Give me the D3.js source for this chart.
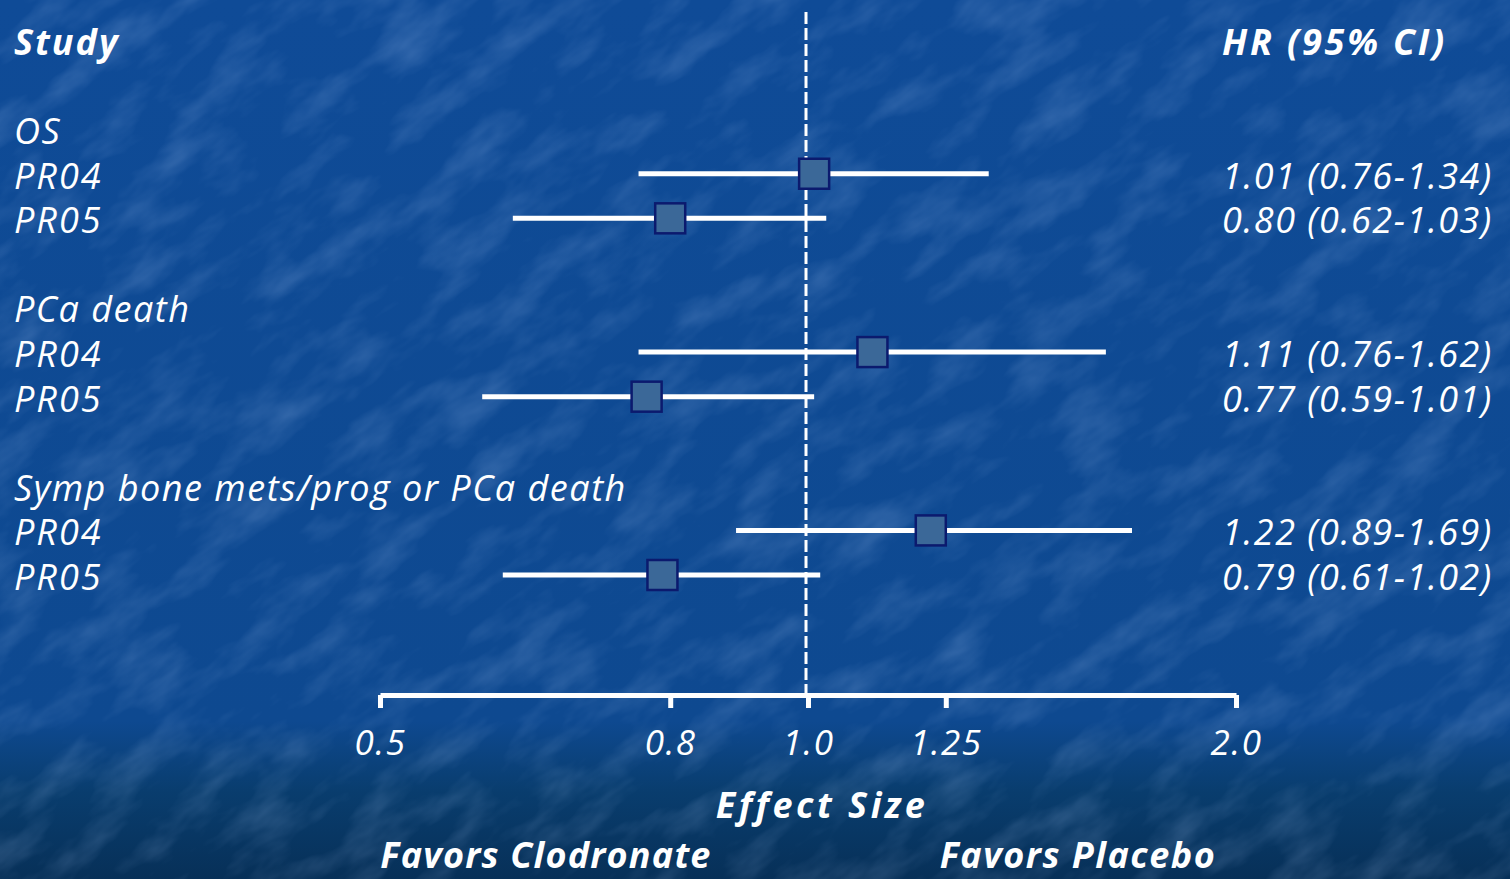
<!DOCTYPE html>
<html>
<head>
<meta charset="utf-8">
<script src="https://cdn.jsdelivr.net/npm/d3@7"></script>
<style>
  body { margin: 0; background: #0f4b97; overflow: hidden; }
  text { font-family: "Open Sans", sans-serif; font-style: italic; fill: #fff; }
</style>
</head>
<body>
<script>
const w = 1510;
const h = 879;

// groups and studies, in drawing order
const groups = ["OS", "PCa death", "Symp bone mets/prog or PCa death"];
const studies = ["PR04", "PR05", "PR04", "PR05", "PR04", "PR05"];
const hr = [1.01, 0.80, 1.11, 0.77, 1.22, 0.79];
const lower = [0.76, 0.62, 0.76, 0.59, 0.89, 0.61];
const upper = [1.34, 1.03, 1.62, 1.01, 1.69, 1.02];
const hrLabels = ["1.01 (0.76-1.34)", "0.80 (0.62-1.03)", "1.11 (0.76-1.62)",
                  "0.77 (0.59-1.01)", "1.22 (0.89-1.69)", "0.79 (0.61-1.02)"];
const tickValues = [0.5, 0.8, 1.0, 1.25, 2.0];
const tickLabels = ["0.5", "0.8", "1.0", "1.25", "2.0"];

const boxFill = "#3b6898";
const boxStroke = "#0b1a6e";

const svg = d3.select("body")
    .append("svg")
    .attr("width", w)
    .attr("height", h);

const defs = svg.append("defs");
const grad = defs.append("linearGradient")
    .attr("id", "bg")
    .attr("x1", 0).attr("y1", 0).attr("x2", 0).attr("y2", 1);
grad.append("stop").attr("offset", "0").attr("stop-color", "#0f4b97");
grad.append("stop").attr("offset", "0.82").attr("stop-color", "#0e4990");
grad.append("stop").attr("offset", "0.9").attr("stop-color", "#093d6e");
grad.append("stop").attr("offset", "1").attr("stop-color", "#073058");

// mottled texture like the slide background
const filt = defs.append("filter").attr("id", "tex")
    .attr("x", 0).attr("y", 0).attr("width", 1).attr("height", 1);
filt.append("feTurbulence")
    .attr("type", "fractalNoise")
    .attr("baseFrequency", "0.012 0.03")
    .attr("numOctaves", 4)
    .attr("seed", 7);
filt.append("feColorMatrix")
    .attr("type", "matrix")
    .attr("values", "0 0 0 0 0.45  0 0 0 0 0.62  0 0 0 0 0.95  0 0 0 1.4 -0.62");

svg.append("rect")
    .attr("width", w)
    .attr("height", h)
    .attr("fill", "url(#bg)");

svg.append("rect")
    .attr("x", -600).attr("y", -600)
    .attr("width", w + 1200).attr("height", h + 1200)
    .attr("transform", "rotate(-35 755 440)")
    .attr("filter", "url(#tex)")
    .attr("opacity", 0.3);

const x = d3.scaleLog().domain([0.5, 2.0]).range([380, 1236]);
const y = d3.scaleLinear().domain([0, 12]).range([42, 577]);

// row index of each group header and study line
const groupRow = (g) => g * 4 + 2;
const studyRow = (i) => Math.floor(i / 2) * 4 + 3 + (i % 2);

function boldText(tx, ty, label, anchor, spacing) {
    svg.append("text")
        .attr("x", tx).attr("y", ty).attr("dy", "0.36em")
        .attr("text-anchor", anchor)
        .style("font-weight", 700).style("font-size", "36px")
        .style("letter-spacing", spacing + "px")
        .text(label);
}

// headers
boldText(14, y(0), "Study", "start", 2);
boldText(1222, y(0), "HR (95% CI)", "start", 2.8);

svg.selectAll("text.group")
    .data(groups)
    .enter()
    .append("text")
    .attr("class", "group")
    .attr("x", 14)
    .attr("y", (d, i) => y(groupRow(i)))
    .attr("dy", "0.36em")
    .style("font-size", "36px")
    .style("letter-spacing", "1.5px")
    .text((d) => d);

svg.selectAll("text.study")
    .data(studies)
    .enter()
    .append("text")
    .attr("class", "study")
    .attr("x", 14)
    .attr("y", (d, i) => y(studyRow(i)))
    .attr("dy", "0.36em")
    .style("font-size", "36px")
    .style("letter-spacing", "2px")
    .text((d) => d);

svg.selectAll("text.hr")
    .data(hrLabels)
    .enter()
    .append("text")
    .attr("class", "hr")
    .attr("x", 1222)
    .attr("y", (d, i) => y(studyRow(i)))
    .attr("dy", "0.36em")
    .style("font-size", "36px")
    .style("letter-spacing", "1.5px")
    .text((d) => d);

// reference line at 1
svg.append("line")
    .attr("x1", x(1) - 2).attr("x2", x(1) - 2)
    .attr("y1", 12).attr("y2", 693)
    .attr("stroke", "#fff")
    .attr("stroke-width", 3)
    .attr("stroke-dasharray", "12 4");

// CI lines
svg.selectAll("line.ci")
    .data(hr)
    .enter()
    .append("line")
    .attr("class", "ci")
    .attr("x1", (d, i) => x(lower[i]))
    .attr("x2", (d, i) => x(upper[i]))
    .attr("y1", (d, i) => y(studyRow(i)) - 2)
    .attr("y2", (d, i) => y(studyRow(i)) - 2)
    .attr("stroke", "#fff")
    .attr("stroke-width", 5);

// point estimates
const box = 30;
svg.selectAll("rect.pt")
    .data(hr)
    .enter()
    .append("rect")
    .attr("class", "pt")
    .attr("x", (d) => x(d) - box / 2)
    .attr("y", (d, i) => y(studyRow(i)) - 2 - box / 2)
    .attr("width", box)
    .attr("height", box)
    .attr("fill", boxFill)
    .attr("stroke", boxStroke)
    .attr("stroke-width", 2.5);

// axis
const axis = svg.append("g")
    .attr("transform", "translate(0,695)")
    .call(d3.axisBottom(x)
        .tickValues(tickValues)
        .tickFormat((d, i) => tickLabels[i])
        .tickSize(13)
        .tickSizeOuter(0));
axis.select(".domain")
    .attr("stroke", "#fff")
    .attr("stroke-width", 5);
axis.selectAll(".tick line")
    .attr("stroke", "#fff")
    .attr("stroke-width", 5);
axis.selectAll(".tick text")
    .attr("y", 47)
    .attr("dy", "0.36em")
    .attr("fill", "#fff")
    .style("font-family", "'Open Sans', sans-serif")
    .style("font-style", "italic")
    .style("font-size", "35px")
    .style("letter-spacing", "1.5px");

boldText(822, 805, "Effect Size", "middle", 3.5);
boldText(546, 855, "Favors Clodronate", "middle", 1.2);
boldText(1078, 855, "Favors Placebo", "middle", 1.5);
</script>
</body>
</html>
